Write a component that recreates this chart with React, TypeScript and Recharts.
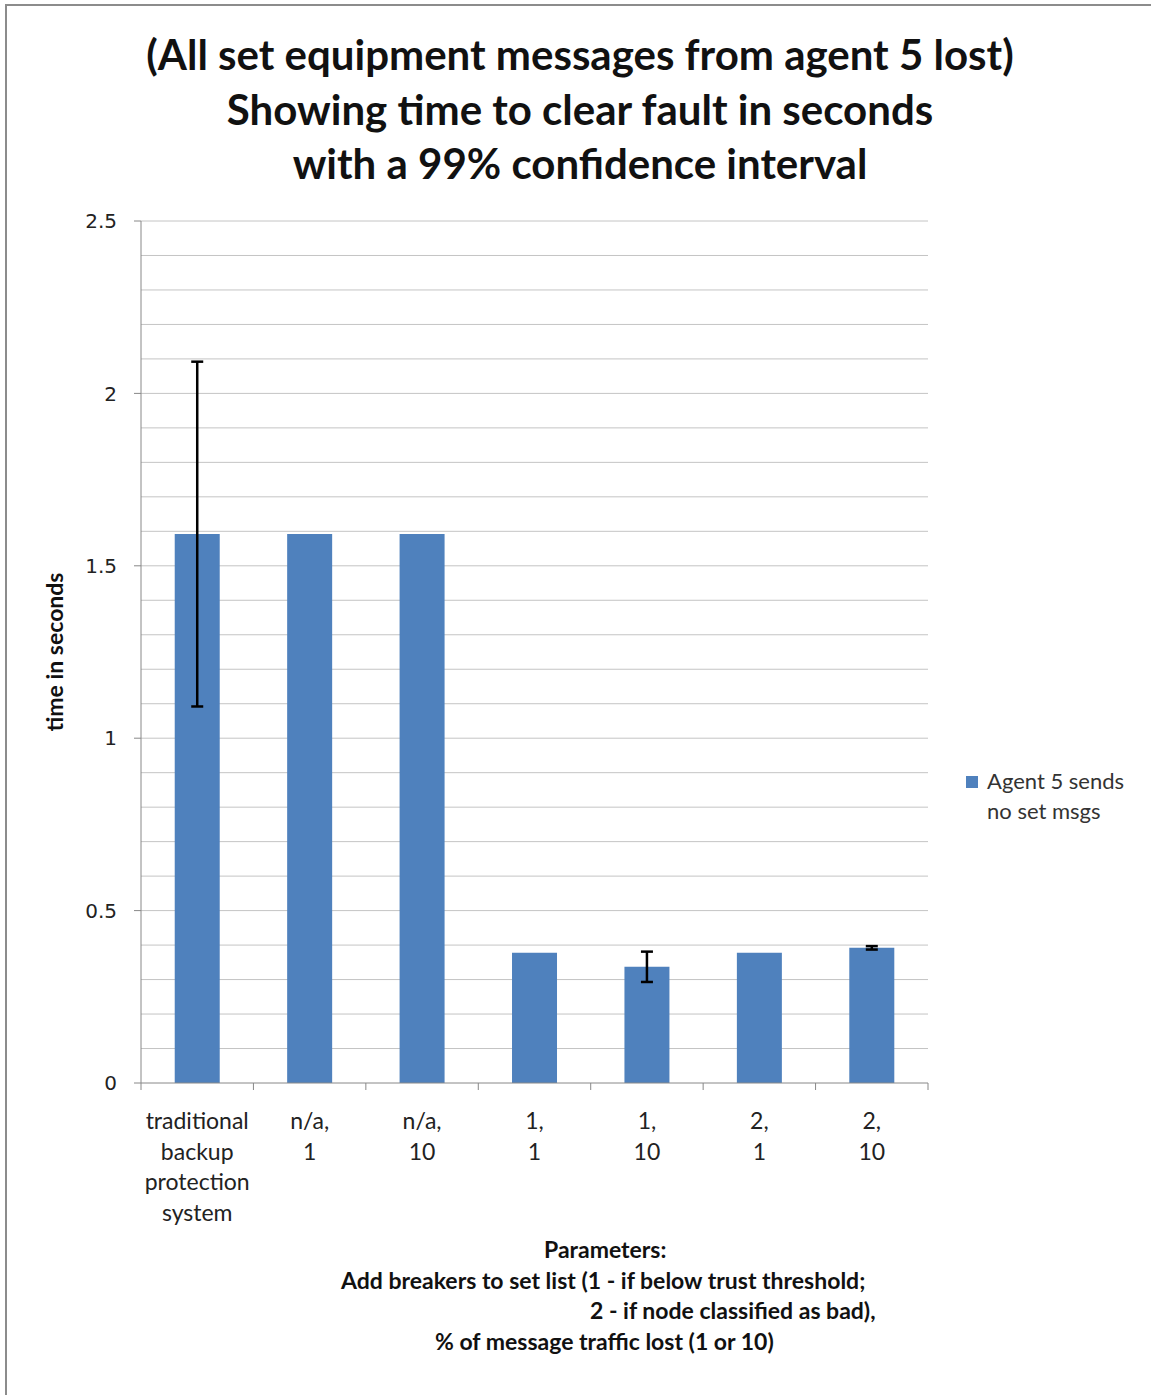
import React from "react";
import { BarChart, Bar, XAxis, YAxis, CartesianGrid, ErrorBar } from "recharts";

const categories = [
  "traditional|backup|protection|system",
  "n/a,|1",
  "n/a,|10",
  "1,|1",
  "1,|10",
  "2,|1",
  "2,|10",
];
const meanTimes = [1.592, 1.592, 1.592, 0.378, 0.337, 0.378, 0.392];
const ciHalfWidths = [0.5, 0, 0, 0, 0.044, 0, 0.005];
const yTicks = [0, 0.5, 1, 1.5, 2, 2.5];
const gridValues = [0.1, 0.2, 0.3, 0.4, 0.5, 0.6, 0.7, 0.8, 0.9, 1, 1.1, 1.2, 1.3, 1.4, 1.5, 1.6, 1.7, 1.8, 1.9, 2, 2.1, 2.2, 2.3, 2.4, 2.5];
const seriesName = "Agent 5 sends no set msgs";
const titleLines = [
  "(All set equipment messages from agent 5 lost)",
  "Showing time to clear fault in seconds",
  "with a 99% confidence interval",
];
const xTitleLines = [
  "Parameters:",
  "Add breakers to set list (1 - if below trust threshold;",
  "2 - if node classified as bad),",
  "% of message traffic lost (1 or 10)",
];

const data = categories.map((c, i) => ({
  category: c,
  time: meanTimes[i],
  ci: ciHalfWidths[i],
}));

const BAR_COLOR = "#4f81bd";
const FONT = "Lato, 'Open Sans', sans-serif";
const PLOT_W = 787;
const BAND = PLOT_W / categories.length;

function CategoryTick(props: any) {
  const { x, y, payload, index } = props;
  const lines = String(payload.value).split("|");
  return (
    <g>
      <line x1={x - BAND / 2} x2={x - BAND / 2} y1={y} y2={y + 7} stroke="#888" />
      {index === categories.length - 1 && (
        <line x1={x + BAND / 2} x2={x + BAND / 2} y1={y} y2={y + 7} stroke="#888" />
      )}
      <text x={x} y={y + 46} textAnchor="middle" fontFamily={FONT} fontSize={23} fill="#222">
        {lines.map((l, i) => (
          <tspan key={i} x={x} dy={i === 0 ? 0 : 30.5}>
            {l}
          </tspan>
        ))}
      </text>
    </g>
  );
}

export default function App() {
  return (
    <div style={{ position: "absolute", left: 0, top: 0, width: 1151, height: 1395, background: "#fff", overflow: "hidden" }}>
      <div style={{ position: "absolute", left: 5, top: 4, width: 1160, height: 1400, border: "2px solid #8c8c8c" }} />
      <div
        style={{
          position: "absolute",
          left: 80,
          top: 27,
          width: 1000,
          textAlign: "center",
          fontFamily: FONT,
          fontWeight: 700,
          fontSize: 42,
          lineHeight: "54.5px",
          color: "#111",
        }}
      >
        {titleLines.map((t) => (
          <div key={t}>{t}</div>
        ))}
      </div>
      <div style={{ position: "absolute", left: 0, top: 0 }}>
        <BarChart
          width={1151}
          height={1395}
          data={data}
          margin={{ top: 221, right: 223, left: 81, bottom: 162 }}
          barCategoryGap="30%"
        >
          <CartesianGrid horizontal vertical={false} horizontalValues={gridValues} stroke="#c4c4c4" />
          <XAxis
            dataKey="category"
            height={150}
            tick={<CategoryTick />}
            tickLine={false}
            tickSize={0}
            tickMargin={0}
            interval={0}
            stroke="#888"
          />
          <YAxis
            width={60}
            domain={[0, 2.5]}
            ticks={yTicks}
            tickSize={7}
            tickMargin={17}
            stroke="#888"
            tick={{ fontFamily: "'DejaVu Sans'", fontSize: 20, fill: "#222" }}
            label={{
              value: "time in seconds",
              angle: -90,
              position: "insideLeft",
              dx: -31,
              style: { fontFamily: FONT, fontWeight: 700, fontSize: 23, fill: "#111", textAnchor: "middle" },
            }}
          />
          <Bar dataKey="time" name={seriesName} fill={BAR_COLOR} isAnimationActive={false}>
            <ErrorBar dataKey="ci" width={6} strokeWidth={2.5} stroke="#000" direction="y" />
          </Bar>
        </BarChart>
      </div>
      <div
        style={{
          position: "absolute",
          left: 966,
          top: 766,
          display: "flex",
          fontFamily: FONT,
          fontSize: 22,
          color: "#333",
          lineHeight: "30px",
        }}
      >
        <div style={{ width: 12, height: 12, background: BAR_COLOR, marginTop: 10, marginRight: 9 }} />
        <div style={{ width: 160 }}>{seriesName}</div>
      </div>
      <div
        style={{
          position: "absolute",
          left: 300,
          top: 1234,
          width: 620,
          fontFamily: FONT,
          fontWeight: 700,
          fontSize: 23,
          lineHeight: "30.5px",
          color: "#111",
          whiteSpace: "nowrap",
        }}
      >
        <div style={{ paddingLeft: 244 }}>{xTitleLines[0]}</div>
        <div style={{ paddingLeft: 41 }}>{xTitleLines[1]}</div>
        <div style={{ paddingLeft: 290 }}>{xTitleLines[2]}</div>
        <div style={{ paddingLeft: 135 }}>{xTitleLines[3]}</div>
      </div>
    </div>
  );
}
